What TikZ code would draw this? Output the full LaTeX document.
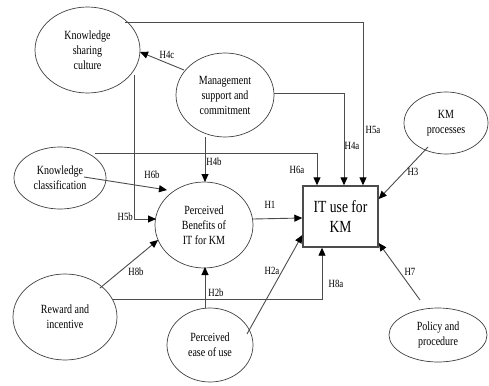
\documentclass[tikz,border=0pt]{standalone}
\usepackage{fontspec}
\setmainfont{Liberation Serif}[FakeStretch=0.8]
\usetikzlibrary{arrows.meta}
\begin{document}
\begin{tikzpicture}[x=1pt,y=-1pt,
  oval/.style={draw=black!75,line width=0.7pt},
  lbl/.style={font=\fontsize{12.5}{15}\selectfont,align=center},
  conn/.style={draw=black!70,line width=0.9pt,-{Triangle[length=8pt,width=7pt,color=black]}},
  hl/.style={font=\fontsize{11}{12}\selectfont,inner sep=1pt}]
\useasboundingbox (0,0) rectangle (489,385);
% ellipses
\draw[oval] (87.5,50) ellipse [x radius=52.5,y radius=43];
\node[lbl] (ksc) at (87.5,50) {Knowledge\\sharing\\culture};
\draw[oval] (225,95) ellipse [x radius=49,y radius=42];
\node[lbl] (msc) at (225,95) {Management\\support and\\commitment};
\draw[oval] (446,123) ellipse [x radius=42,y radius=31];
\node[lbl] (kmp) at (446,123) {KM\\processes};
\draw[oval] (60,178) ellipse [x radius=46,y radius=31];
\node[lbl] (kc) at (60,178) {Knowledge\\classification};
\draw[oval] (204,225) ellipse [x radius=49,y radius=43];
\node[lbl] (pb) at (204,225) {Perceived\\Benefits of\\IT for KM};
\draw[oval] (65,317) ellipse [x radius=52,y radius=43];
\node[lbl] (ri) at (65,317) {Reward and\\incentive};
\draw[oval] (210,345) ellipse [x radius=43,y radius=37];
\node[lbl] (pe) at (210,345) {Perceived\\ease of use};
\draw[oval] (438,335) ellipse [x radius=49,y radius=27];
\node[lbl] (pp) at (438,335) {Policy and\\procedure};
% box
\node[draw=black!70,line width=1.4pt,minimum width=75pt,minimum height=61pt,align=center,
  font=\fontsize{17}{20}\selectfont] (it) at (340.5,216.5) {IT use for\\KM};
% connectors
\coordinate (a1) at (125,22);
\draw[conn] (a1) -- (363,22) -- (it.north -| 363,0);
\node[hl] (h5a) at (373,130) {H5a};
\coordinate (a2) at (274,93);
\draw[conn] (a2) -- (344,93) -- (it.north -| 344,0);
\node[hl] (h4a) at (352,146) {H4a};
\coordinate (a3) at (95,153);
\draw[conn] (a3) -- (317,153) -- (it.north -| 317,0);
\node[hl] (h6a) at (297,170) {H6a};
\coordinate (a4) at (428,147);
\draw[conn] (a4) -- (it.north east |- 0,199);
\node[hl] (h3) at (413,172) {H3};
\coordinate (a5) at (184,70);
\coordinate (a5e) at (140,52);
\draw[conn] (a5) -- (a5e);
\node[hl] (h4c) at (167,55) {H4c};
\coordinate (a6) at (205,137);
\draw[conn] (a6) -- (205,182);
\node[hl] (h4b) at (214,162) {H4b};
\coordinate (a7) at (134,75);
\draw[conn] (a7) -- (134,219) -- (156,219);
\node[hl,anchor=east] (h5b) at (134,217) {H5b};
\coordinate (a8) at (84,177);
\draw[conn] (a8) -- (167,190);
\node[hl] (h6b) at (152,175) {H6b};
\coordinate (a9) at (100,288);
\draw[conn] (a9) -- (158,240);
\node[hl] (h8b) at (136,272) {H8b};
\coordinate (a10) at (253,219);
\draw[conn] (a10) -- (it.west |- 0,218);
\node[hl] (h1) at (270,205) {H1};
\coordinate (a11) at (247,334);
\draw[conn] (a11) -- (it.south west |- 0,235);
\node[hl] (h2a) at (272,271) {H2a};
\coordinate (a12) at (112,299);
\draw[conn] (a12) -- (322,299) -- (it.south -| 322,0);
\node[hl] (h8a) at (336,284) {H8a};
\coordinate (a13) at (205,308);
\draw[conn] (a13) -- (205,267);
\node[hl] (h2b) at (216,293) {H2b};
\coordinate (a14) at (420,300);
\draw[conn] (a14) -- (it.south east |- 0,243);
\node[hl] (h7) at (410,272) {H7};
\end{tikzpicture}
\end{document}
